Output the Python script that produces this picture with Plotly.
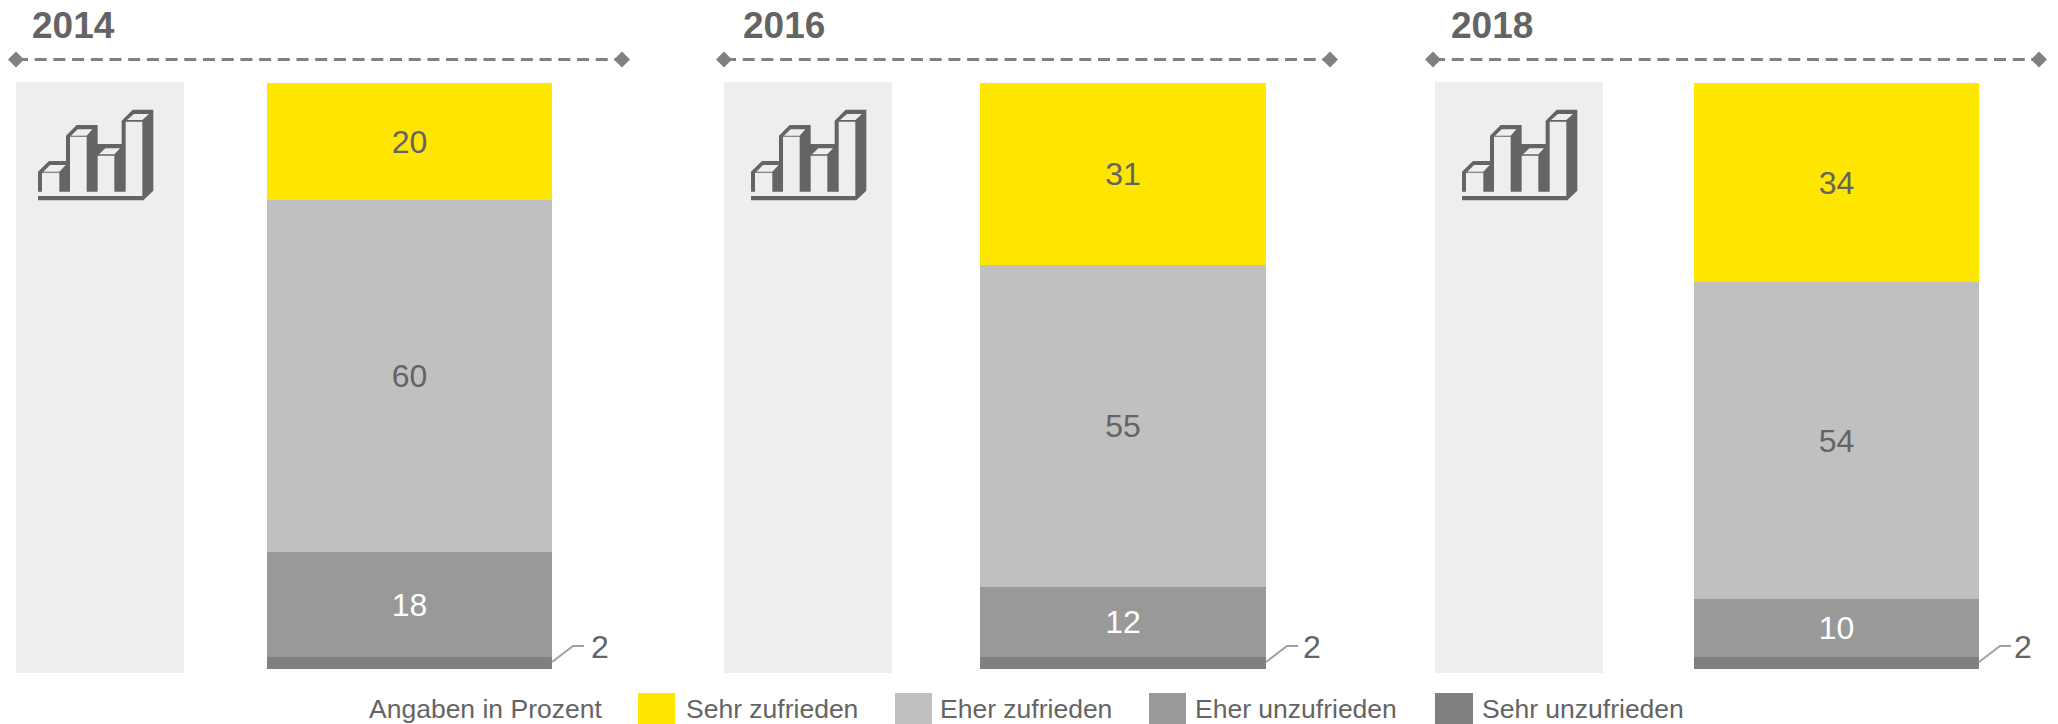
import plotly.graph_objects as go

# Survey results per year, in percent
years = ["2014", "2016", "2018"]
sehr_zufrieden = [20, 31, 34]
eher_zufrieden = [60, 55, 54]
eher_unzufrieden = [18, 12, 10]
sehr_unzufrieden = [2, 2, 2]

series_names = ["Sehr unzufrieden", "Eher unzufrieden", "Eher zufrieden", "Sehr zufrieden"]
series_values = [sehr_unzufrieden, eher_unzufrieden, eher_zufrieden, sehr_zufrieden]
series_colors = ["#808080", "#999999", "#C0C0C0", "#FFE600"]
label_colors = [None, "#FFFFFF", "#646464", "#646464"]

W, H = 2058, 724
FONT = "Liberation Sans"
TEXT = "#646464"

# Pixel layout of each year's block
bar_spans = [(267, 552), (980, 1266), (1694, 1979)]
panel_spans = [(16, 184), (724, 892), (1435, 1603)]
rule_spans = [(16, 622), (724, 1330), (1433, 2039)]
title_x = [29.5, 740.5, 1449]
icon_x = [38, 751, 1462]
small_label_x = [600, 1312, 2023]
BAR_TOP, BAR_BOTTOM = 83, 669
PANEL_TOP, PANEL_BOTTOM = 82, 673
RULE_Y = 59.5


def px(x):
    return x / W


def py(y):
    return 1 - y / H


fig = go.Figure()
shapes, annotations = [], []

# Stacked bars, one subplot per year
for i, year in enumerate(years):
    axis = "" if i == 0 else str(i + 1)
    for name, values, color, label_color in zip(series_names, series_values, series_colors, label_colors):
        value = values[i]
        fig.add_trace(go.Bar(
            x=[year], y=[value], name=name, marker=dict(color=color, line=dict(width=0)),
            text=[str(value)] if label_color else None,
            textposition="inside" if label_color else "none",
            insidetextanchor="middle", textangle=0,
            insidetextfont=dict(family=FONT, size=32, color=label_color or TEXT),
            xaxis="x" + axis, yaxis="y" + axis, showlegend=False,
        ))
    fig.update_layout({
        "xaxis" + axis: dict(domain=[px(bar_spans[i][0]), px(bar_spans[i][1])], visible=False,
                             type="category", fixedrange=True, anchor="y" + axis),
        "yaxis" + axis: dict(domain=[py(BAR_BOTTOM), py(BAR_TOP)], range=[0, 100], visible=False,
                             fixedrange=True, anchor="x" + axis),
    })


# Bar-chart pictogram, drawn in a 3x grid and scaled down to pixels
ICON_OUTER = [(114, 575), (114, 515), (147, 483), (198, 483), (198, 407), (230, 375), (293, 375),
              (293, 432), (365, 432), (365, 362), (398, 329), (460, 329), (460, 572), (430, 601), (114, 601)]
ICON_FRONT = [(114, 588), (427, 588), (427, 365), (377, 365), (377, 575), (343, 575), (343, 467),
              (293, 467), (293, 575), (260, 575), (260, 410), (210, 410), (210, 575), (178, 575),
              (178, 518), (126, 518), (126, 575), (114, 575)]
ICON_TOPS = [
    [(130, 515), (150, 495), (197, 495), (178, 515)],
    [(213, 407), (233, 388), (277, 388), (260, 407)],
    [(297, 463), (316, 445), (360, 445), (343, 463)],
    [(381, 360), (402, 342), (447, 342), (427, 360)],
]


def icon_path(x0):
    parts = []
    for poly in [ICON_OUTER, ICON_FRONT] + ICON_TOPS:
        pts = [f"{px(x0 + (a - 114) / 3):.5f},{py(b / 3):.5f}" for a, b in poly]
        parts.append("M" + " L".join(pts) + " Z")
    return " ".join(parts)


for i, year in enumerate(years):
    # Light panel behind the pictogram
    shapes.append(dict(type="rect", xref="paper", yref="paper", layer="below", line_width=0,
                       fillcolor="#EEEEEE", x0=px(panel_spans[i][0]), x1=px(panel_spans[i][1]),
                       y0=py(PANEL_BOTTOM), y1=py(PANEL_TOP)))
    shapes.append(dict(type="path", xref="paper", yref="paper", path=icon_path(icon_x[i]),
                       fillcolor="#646464", line_width=0))

    # Dashed rule with diamond ends below the year
    x0, x1 = rule_spans[i]
    shapes.append(dict(type="line", xref="paper", yref="paper", x0=px(x0), x1=px(x1),
                       y0=py(RULE_Y), y1=py(RULE_Y),
                       line=dict(color="#808080", width=3, dash="12px,6.7px")))
    for cx in (x0, x1):
        pts = [(cx - 8, RULE_Y), (cx, RULE_Y - 8), (cx + 8, RULE_Y), (cx, RULE_Y + 8)]
        shapes.append(dict(type="path", xref="paper", yref="paper", fillcolor="#808080", line_width=0,
                           path="M" + " L".join(f"{px(a):.5f},{py(b):.5f}" for a, b in pts) + " Z"))

    annotations.append(dict(text=f"<b>{year}</b>", xref="paper", yref="paper", x=px(title_x[i]), y=py(26),
                            xanchor="left", yanchor="middle", showarrow=False,
                            font=dict(family=FONT, size=37, color=TEXT)))

    # Leader line and value for the thin bottom segment
    bx = bar_spans[i][1]
    shapes.append(dict(type="path", xref="paper", yref="paper",
                       path=f"M{px(bx):.5f},{py(662):.5f} L{px(bx + 21):.5f},{py(646):.5f} L{px(bx + 32):.5f},{py(646):.5f}",
                       line=dict(color="#A0A0A0", width=2)))
    annotations.append(dict(text=str(sehr_unzufrieden[i]), xref="paper", yref="paper", x=px(small_label_x[i]), y=py(647),
                            xanchor="center", yanchor="middle", showarrow=False,
                            font=dict(family=FONT, size=32, color=TEXT)))

# Legend row along the bottom edge
legend_font = dict(family=FONT, size=26.5, color=TEXT)
annotations.append(dict(text="Angaben in Prozent", xref="paper", yref="paper", x=px(367), y=py(709),
                        xanchor="left", yanchor="middle", showarrow=False, font=legend_font))
legend_names = ["Sehr zufrieden", "Eher zufrieden", "Eher unzufrieden", "Sehr unzufrieden"]
legend_colors = ["#FFE600", "#C0C0C0", "#999999", "#808080"]
swatch_spans = [(638, 675), (895, 932), (1149, 1186), (1435, 1473)]
legend_text_x = [684, 938, 1193, 1480]
for name, color, (s0, s1), tx in zip(legend_names, legend_colors, swatch_spans, legend_text_x):
    shapes.append(dict(type="rect", xref="paper", yref="paper", line_width=0, fillcolor=color,
                       x0=px(s0), x1=px(s1), y0=py(724), y1=py(693)))
    annotations.append(dict(text=name, xref="paper", yref="paper", x=px(tx), y=py(709),
                            xanchor="left", yanchor="middle", showarrow=False, font=legend_font))

fig.update_layout(
    width=W, height=H, margin=dict(l=0, r=0, t=0, b=0, pad=0, autoexpand=False),
    barmode="stack", bargap=0, paper_bgcolor="#FFFFFF", plot_bgcolor="rgba(0,0,0,0)",
    shapes=shapes, annotations=annotations, font=dict(family=FONT, color=TEXT),
)

fig.write_html("out.html", config={"displayModeBar": False})
